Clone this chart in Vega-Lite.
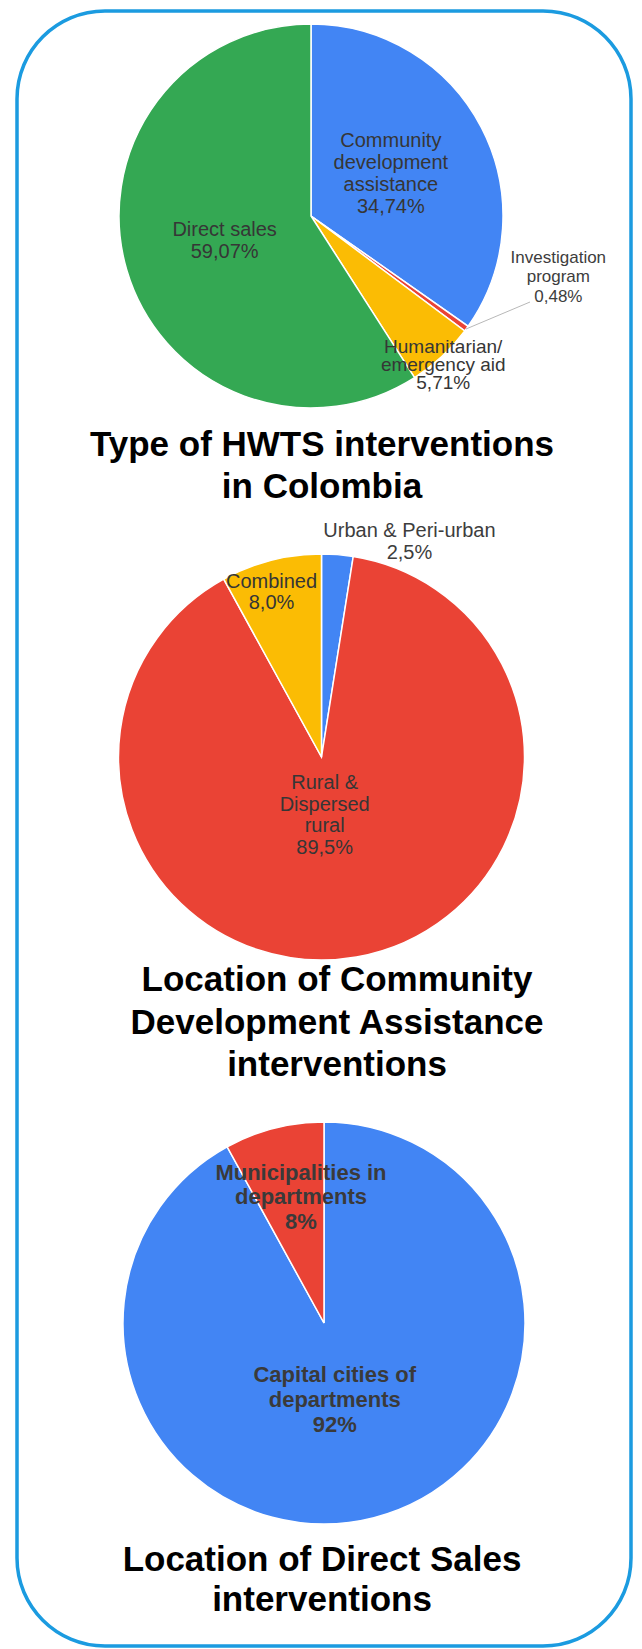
{
  "$schema": "https://vega.github.io/schema/vega-lite/v6.json",
  "width": 614,
  "height": 1635,
  "padding": {"left": 17, "top": 11, "right": 11, "bottom": 3},
  "autosize": {"type": "none"},
  "background": "white",
  "config": {
    "view": {"stroke": "#1b9be0", "strokeWidth": 3.5, "cornerRadius": 88, "fill": "white"},
    "text": {"font": "Liberation Sans"}
  },
  "datasets": {
    "slices": [
      {"chart": "type", "category": "Community development assistance", "value": 34.74, "label": "Community\ndevelopment\nassistance\n34,74%"},
      {"chart": "type", "category": "Investigation program", "value": 0.48, "label": "Investigation\nprogram\n0,48%"},
      {"chart": "type", "category": "Humanitarian/emergency aid", "value": 5.71, "label": "Humanitarian/\nemergency aid\n5,71%"},
      {"chart": "type", "category": "Direct sales", "value": 59.07, "label": "Direct sales\n59,07%"},
      {"chart": "community", "category": "Urban & Peri-urban", "value": 2.5, "label": "Urban & Peri-urban\n2,5%"},
      {"chart": "community", "category": "Rural & Dispersed rural", "value": 89.5, "label": "Rural &\nDispersed\nrural\n89,5%"},
      {"chart": "community", "category": "Combined", "value": 8.0, "label": "Combined\n8,0%"},
      {"chart": "sales", "category": "Capital cities of departments", "value": 92, "label": "Capital cities of\ndepartments\n92%"},
      {"chart": "sales", "category": "Municipalities in departments", "value": 8, "label": "Municipalities in\ndepartments\n8%"}
    ],
    "titles": [
      {"chart": "type", "title": "Type of HWTS interventions\nin Colombia"},
      {"chart": "community", "title": "Location of Community\nDevelopment Assistance\ninterventions"},
      {"chart": "sales", "title": "Location of Direct Sales\ninterventions"}
    ]
  },
  "data": {"name": "slices"},
  "transform": [{"window": [{"op": "row_number", "as": "rank"}]}],
  "encoding": {
    "x": {"field": "chart", "type": "nominal", "axis": null,
          "scale": {"type": "point", "padding": 0, "domain": ["type", "community", "sales"], "range": [294, 307]}},
    "y": {"field": "chart", "type": "nominal", "axis": null,
          "scale": {"type": "point", "padding": 0, "domain": ["type", "community", "sales"], "range": [205, 1312]}}
  },
  "layer": [
    {
      "transform": [{"filter": "datum.chart === 'type'"}],
      "mark": {"type": "arc", "radius": 192, "stroke": "white", "strokeWidth": 1.5},
      "encoding": {
        "theta": {"field": "value", "type": "quantitative", "stack": true, "scale": {"domain": [0, 100]}},
        "order": {"field": "rank", "type": "quantitative"},
        "color": {"field": "category", "type": "nominal", "legend": null,
          "scale": {
            "domain": ["Community development assistance", "Investigation program", "Humanitarian/emergency aid", "Direct sales", "Urban & Peri-urban", "Rural & Dispersed rural", "Combined", "Capital cities of departments", "Municipalities in departments"],
            "range": ["#4285f4", "#ea4335", "#fbbc04", "#34a853", "#4285f4", "#ea4335", "#fbbc04", "#4285f4", "#ea4335"]
          }}
      }
    },
    {
      "transform": [{"filter": "datum.chart === 'community'"}],
      "mark": {"type": "arc", "radius": 203, "stroke": "white", "strokeWidth": 1.5, "xOffset": 4, "yOffset": -12.5},
      "encoding": {
        "theta": {"field": "value", "type": "quantitative", "stack": true},
        "order": {"field": "rank", "type": "quantitative"},
        "color": {"field": "category", "type": "nominal", "legend": null}
      }
    },
    {
      "transform": [{"filter": "datum.chart === 'sales'"}],
      "mark": {"type": "arc", "radius": 201, "stroke": "white", "strokeWidth": 1.5},
      "encoding": {
        "theta": {"field": "value", "type": "quantitative", "stack": true},
        "order": {"field": "rank", "type": "quantitative"},
        "color": {"field": "category", "type": "nominal", "legend": null}
      }
    },
    {
      "transform": [{"filter": "datum.category === 'Investigation program'"}],
      "mark": {"type": "rule", "color": "#b8b8b8", "strokeWidth": 1, "xOffset": 155, "yOffset": 113, "x2Offset": 219, "y2Offset": 86},
      "encoding": {"x2": {"field": "chart"}, "y2": {"field": "chart"}}
    },
    {
      "transform": [{"filter": "datum.chart === 'type'"}],
      "mark": {"type": "text", "radius": 90, "dy": -33, "fontSize": 20, "lineHeight": 22, "lineBreak": "\n", "color": "#363636", "align": "center", "baseline": "middle"},
      "encoding": {
        "theta": {"field": "value", "type": "quantitative", "stack": true},
        "order": {"field": "rank", "type": "quantitative"},
        "text": {"condition": {"test": "datum.category === 'Community development assistance'", "field": "label", "type": "nominal"}, "value": ""}
      }
    },
    {
      "transform": [{"filter": "datum.chart === 'type'"}],
      "mark": {"type": "text", "radius": 90, "dy": -11, "fontSize": 20, "lineHeight": 22, "lineBreak": "\n", "color": "#363636", "align": "center", "baseline": "middle"},
      "encoding": {
        "theta": {"field": "value", "type": "quantitative", "stack": true},
        "order": {"field": "rank", "type": "quantitative"},
        "text": {"condition": {"test": "datum.category === 'Direct sales'", "field": "label", "type": "nominal"}, "value": ""}
      }
    },
    {
      "transform": [{"filter": "datum.chart === 'type'"}],
      "mark": {"type": "text", "radius": 200, "dx": -4, "dy": -15, "fontSize": 19, "lineHeight": 18, "lineBreak": "\n", "color": "#363636", "align": "center", "baseline": "middle"},
      "encoding": {
        "theta": {"field": "value", "type": "quantitative", "stack": true},
        "order": {"field": "rank", "type": "quantitative"},
        "text": {"condition": {"test": "datum.category === 'Humanitarian/emergency aid'", "field": "label", "type": "nominal"}, "value": ""}
      }
    },
    {
      "transform": [{"filter": "datum.chart === 'type'"}],
      "mark": {"type": "text", "radius": 240, "dx": 53, "dy": -99, "fontSize": 17, "lineHeight": 19.5, "lineBreak": "\n", "color": "#3d3d3d", "align": "center", "baseline": "middle"},
      "encoding": {
        "theta": {"field": "value", "type": "quantitative", "stack": true},
        "order": {"field": "rank", "type": "quantitative"},
        "text": {"condition": {"test": "datum.category === 'Investigation program'", "field": "label", "type": "nominal"}, "value": ""}
      }
    },
    {
      "transform": [{"filter": "datum.chart === 'community'"}],
      "mark": {"type": "text", "radius": 216, "dx": 75, "dy": -23.5, "fontSize": 20, "lineHeight": 22, "lineBreak": "\n", "color": "#3d3d3d", "align": "center", "baseline": "middle"},
      "encoding": {
        "theta": {"field": "value", "type": "quantitative", "stack": true},
        "order": {"field": "rank", "type": "quantitative"},
        "text": {"condition": {"test": "datum.category === 'Urban & Peri-urban'", "field": "label", "type": "nominal"}, "value": ""}
      }
    },
    {
      "transform": [{"filter": "datum.chart === 'community'"}],
      "mark": {"type": "text", "radius": 170, "dx": -3.7, "dy": -23, "fontSize": 20, "lineHeight": 21, "lineBreak": "\n", "color": "#363636", "align": "center", "baseline": "middle"},
      "encoding": {
        "theta": {"field": "value", "type": "quantitative", "stack": true},
        "order": {"field": "rank", "type": "quantitative"},
        "text": {"condition": {"test": "datum.category === 'Combined'", "field": "label", "type": "nominal"}, "value": ""}
      }
    },
    {
      "transform": [{"filter": "datum.chart === 'community'"}],
      "mark": {"type": "text", "radius": 59, "dx": -3, "dy": -44.6, "fontSize": 20, "lineHeight": 21.7, "lineBreak": "\n", "color": "#363636", "align": "center", "baseline": "middle"},
      "encoding": {
        "theta": {"field": "value", "type": "quantitative", "stack": true},
        "order": {"field": "rank", "type": "quantitative"},
        "text": {"condition": {"test": "datum.category === 'Rural & Dispersed rural'", "field": "label", "type": "nominal"}, "value": ""}
      }
    },
    {
      "transform": [{"filter": "datum.chart === 'sales'"}],
      "mark": {"type": "text", "radius": 79.5, "dx": -9, "dy": -25, "fontSize": 22, "fontWeight": "bold", "lineHeight": 25, "lineBreak": "\n", "color": "#3a3a3a", "align": "center", "baseline": "middle"},
      "encoding": {
        "theta": {"field": "value", "type": "quantitative", "stack": true},
        "order": {"field": "rank", "type": "quantitative"},
        "text": {"condition": {"test": "datum.category === 'Capital cities of departments'", "field": "label", "type": "nominal"}, "value": ""}
      }
    },
    {
      "transform": [{"filter": "datum.chart === 'sales'"}],
      "mark": {"type": "text", "radius": 130, "dx": 9.3, "dy": -24.5, "fontSize": 22, "fontWeight": "bold", "lineHeight": 24.5, "lineBreak": "\n", "color": "#3a3a3a", "align": "center", "baseline": "middle"},
      "encoding": {
        "theta": {"field": "value", "type": "quantitative", "stack": true},
        "order": {"field": "rank", "type": "quantitative"},
        "text": {"condition": {"test": "datum.category === 'Municipalities in departments'", "field": "label", "type": "nominal"}, "value": ""}
      }
    },
    {
      "data": {"name": "titles"},
      "transform": [{"filter": "datum.chart === 'type'"}],
      "mark": {"type": "text", "dx": 11, "dy": 229, "fontSize": 35, "fontWeight": "bold", "lineHeight": 42, "lineBreak": "\n", "color": "#000000", "align": "center", "baseline": "middle"},
      "encoding": {"text": {"field": "title", "type": "nominal"}}
    },
    {
      "data": {"name": "titles"},
      "transform": [{"filter": "datum.chart === 'community'"}],
      "mark": {"type": "text", "dx": 19.5, "dy": 210.5, "fontSize": 35, "fontWeight": "bold", "lineHeight": 42.5, "lineBreak": "\n", "color": "#000000", "align": "center", "baseline": "middle"},
      "encoding": {"text": {"field": "title", "type": "nominal"}}
    },
    {
      "data": {"name": "titles"},
      "transform": [{"filter": "datum.chart === 'sales'"}],
      "mark": {"type": "text", "dx": -2, "dy": 237, "fontSize": 35, "fontWeight": "bold", "lineHeight": 40, "lineBreak": "\n", "color": "#000000", "align": "center", "baseline": "middle"},
      "encoding": {"text": {"field": "title", "type": "nominal"}}
    }
  ]
}
